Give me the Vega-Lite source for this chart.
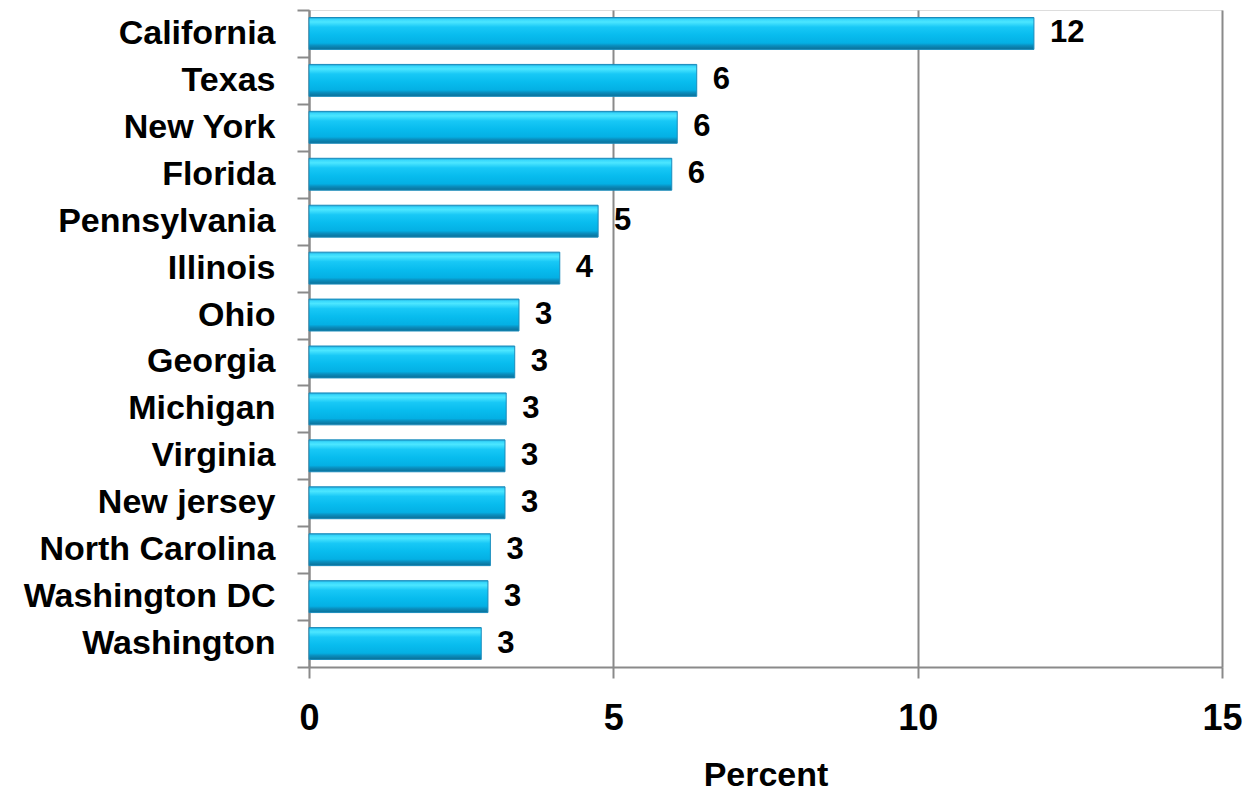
{
  "$schema": "https://vega.github.io/schema/vega-lite/v6.json",
  "autosize": {"type": "none"},
  "padding": {"left": 309, "top": 10, "right": 23, "bottom": 124},
  "width": 913,
  "height": 657,
  "background": "white",
  "data": {
    "values": [
      {"state": "California", "percent": 11.91},
      {"state": "Texas", "percent": 6.37},
      {"state": "New York", "percent": 6.05},
      {"state": "Florida", "percent": 5.96},
      {"state": "Pennsylvania", "percent": 4.75},
      {"state": "Illinois", "percent": 4.12},
      {"state": "Ohio", "percent": 3.45},
      {"state": "Georgia", "percent": 3.38},
      {"state": "Michigan", "percent": 3.24},
      {"state": "Virginia", "percent": 3.22},
      {"state": "New jersey", "percent": 3.22},
      {"state": "North Carolina", "percent": 2.98},
      {"state": "Washington DC", "percent": 2.94},
      {"state": "Washington", "percent": 2.83}
    ]
  },
  "encoding": {
    "y": {
      "field": "state",
      "type": "nominal",
      "sort": null,
      "scale": {"paddingInner": 0, "paddingOuter": 0},
      "axis": {
        "title": null,
        "labelFont": "Liberation Sans",
        "labelFontSize": 34,
        "labelFontWeight": "bold",
        "labelColor": "#000000",
        "labelPadding": 22,
        "labelLimit": 400,
        "domainColor": "#8a8a8a",
        "domainWidth": 2,
        "tickColor": "#8a8a8a",
        "tickWidth": 2,
        "tickSize": 12,
        "tickBand": "extent",
        "grid": false
      }
    },
    "x": {
      "field": "percent",
      "type": "quantitative",
      "scale": {"domain": [0, 15], "nice": false},
      "axis": {
        "title": "Percent",
        "titleFont": "Liberation Sans",
        "titleFontSize": 34,
        "titleFontWeight": "bold",
        "titleColor": "#000000",
        "titlePadding": 22,
        "values": [0, 5, 10, 15],
        "labelFont": "Liberation Sans",
        "labelFontSize": 36,
        "labelFontWeight": "bold",
        "labelColor": "#000000",
        "labelPadding": 23,
        "labelFlush": false,
        "domainColor": "#8a8a8a",
        "domainWidth": 2,
        "tickColor": "#8a8a8a",
        "tickWidth": 2,
        "tickSize": 11,
        "grid": true,
        "gridColor": "#8a8a8a",
        "gridWidth": 2
      }
    }
  },
  "layer": [
    {
      "mark": {
        "type": "bar",
        "height": {"band": 0.68},
        "stroke": "#1a8cbc",
        "strokeWidth": 1,
        "color": {
          "gradient": "linear",
          "x1": 0, "y1": 0, "x2": 0, "y2": 1,
          "stops": [
            {"offset": 0, "color": "#1e9fd0"},
            {"offset": 0.06, "color": "#38d8fc"},
            {"offset": 0.14, "color": "#4ce6ff"},
            {"offset": 0.3, "color": "#18c8f6"},
            {"offset": 0.55, "color": "#08bcee"},
            {"offset": 0.8, "color": "#04b0e4"},
            {"offset": 0.88, "color": "#0a8ebe"},
            {"offset": 1, "color": "#0a6e96"}
          ]
        }
      }
    },
    {
      "mark": {
        "type": "text",
        "align": "left",
        "baseline": "middle",
        "dx": 16,
        "font": "Liberation Sans",
        "fontSize": 31,
        "fontWeight": "bold",
        "color": "#000000"
      },
      "encoding": {
        "text": {"field": "percent", "type": "quantitative", "format": ".0f"}
      }
    }
  ]
}
